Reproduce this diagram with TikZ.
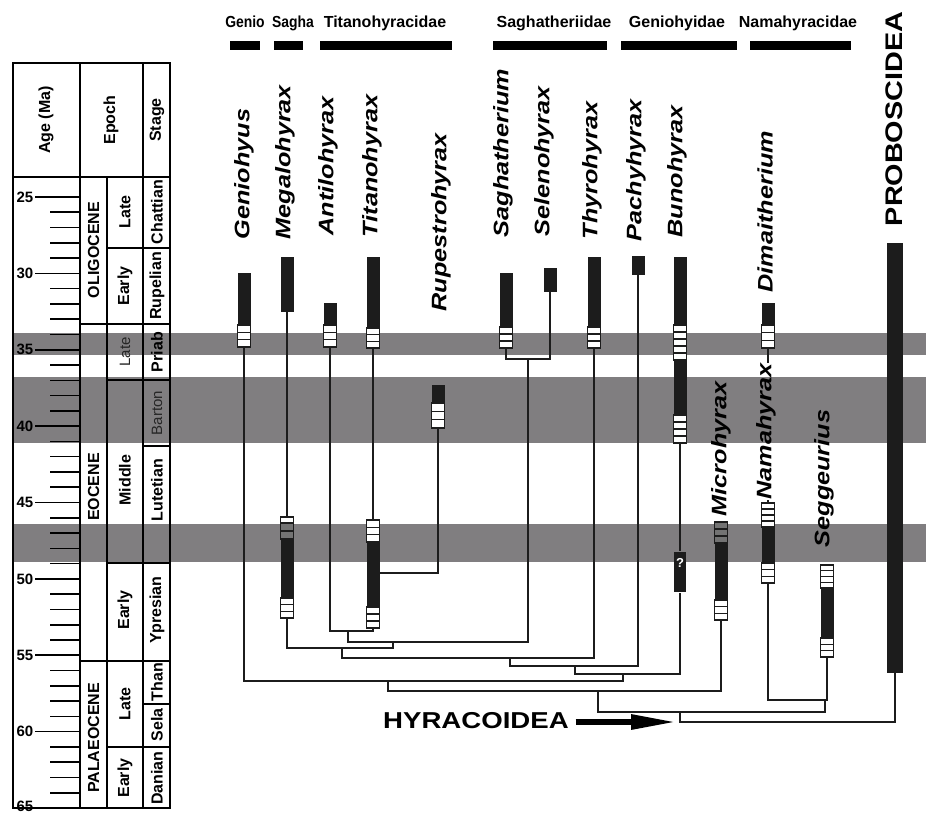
\documentclass[tikz,border=0pt]{standalone}
\usepackage{fontspec}
\setmainfont{Liberation Sans}
\usepackage{graphicx}
\usetikzlibrary{arrows.meta}

\definecolor{bandgray}{RGB}{128,126,128}
\definecolor{barblack}{RGB}{28,28,28}

\newcommand{\wtext}[1]{\scalebox{1.2}[1]{#1}}
% range bar: x, top, bottom
\newcommand{\rangebar}[3]{\fill[barblack] ({#1-6.5},#2) rectangle ({#1+6.5},#3);}
% cells in a bar: [style] x, top, bottom, number
\newcommand{\barcells}[5][cell]{%
  \pgfmathsetmacro{\cellh}{(#4-#3)/#5}
  \foreach \k in {1,...,#5}
    \draw[#1] ({#2-6.5},{#3+(\k-1)*\cellh}) rectangle ({#2+6.5},{#3+\k*\cellh});}

\begin{document}
\begin{tikzpicture}[x=1pt,y=-1pt,line width=1.6pt]
    \tikzstyle{band}=[fill=bandgray]
    \tikzstyle{cell}=[fill=white,draw=barblack,line width=1.1pt]
    \tikzstyle{graycell}=[fill=black!55,draw=barblack,line width=1.1pt]
    \tikzstyle{tabtext}=[rotate=90,inner sep=0pt,font=\fontsize{16}{16}\selectfont\bfseries]
    \tikzstyle{fainttext}=[tabtext,font=\fontsize{15}{15}\selectfont,text=black!85]
    \tikzstyle{agelabel}=[anchor=east,inner sep=0pt,font=\fontsize{15}{15}\selectfont\bfseries]
    \tikzstyle{family}=[anchor=base,inner sep=0pt,font=\fontsize{16}{16}\selectfont\bfseries]
    \tikzstyle{genus}=[rotate=90,anchor=west,inner sep=0pt,font=\fontsize{21}{21}\selectfont\bfseries\itshape]
    \tikzstyle{branch}=[draw=barblack,line width=1.6pt]

    \useasboundingbox (0,0) rectangle (926,814);
    \fill[white] (0,0) rectangle (926,814);

    % Draw the gray bands
    \foreach \ya/\yb in {333/355,377/443,524/562}
        \fill[band] (13,\ya) rectangle (926,\yb);

    % Draw the time scale
    \draw (13,63) rectangle (170,808);
    \draw (13,177) -- (170,177);
    \draw (80,63) -- (80,808);
    \draw (143,63) -- (143,808);
    \draw (107,177) -- (107,808);
    \foreach \y/\xa in {324/80,661/80,248/107,380/107,563/107,747/107,446/143,704/143}
        \draw (\xa,\y) -- (170,\y);
    \foreach \a in {25,...,65}{
        \pgfmathsetmacro{\xt}{mod(\a,5)==0 ? 35 : 50}
        \draw (\xt,{197+(\a-25)*15.275}) -- (80,{197+(\a-25)*15.275});
    }
    \foreach \a in {25,30,...,60}
        \node[agelabel] (age-\a) at (34,{197+(\a-25)*15.275}) {\a};
    \node[agelabel,anchor=north east] (age-65) at (34,800) {65};

    \node[tabtext] (hd-age) at (46,120) {Age (Ma)};
    \node[tabtext] (hd-epoch) at (111,120) {Epoch};
    \node[tabtext] (hd-stage) at (157,120) {Stage};
    \node[tabtext] (oligocene) at (93.5,250) {OLIGOCENE};
    \node[tabtext] (eocene) at (93.5,487) {EOCENE};
    \node[tabtext] (palaeocene) at (93.5,738) {PALAEOCENE};
    \node[tabtext] (olig-late) at (125,212) {Late};
    \node[tabtext] (olig-early) at (125,286) {Early};
    \node[fainttext] (eoc-late) at (125,352) {Late};
    \node[tabtext] (eoc-middle) at (125,480) {Middle};
    \node[tabtext] (eoc-early) at (125,610) {Early};
    \node[tabtext] (pal-late) at (125,704) {Late};
    \node[tabtext] (pal-early) at (125,778) {Early};
    \node[tabtext] (chattian) at (157,212) {Chattian};
    \node[tabtext] (rupelian) at (157,286) {Rupelian};
    \node[tabtext] (priab) at (157,352) {Priab};
    \node[fainttext] (barton) at (157,413) {Barton};
    \node[tabtext] (lutetian) at (157,490) {Lutetian};
    \node[tabtext] (ypresian) at (157,610) {Ypresian};
    \node[tabtext] (than) at (157,682) {Than};
    \node[tabtext] (sela) at (157,725) {Sela};
    \node[tabtext] (danian) at (157,778) {Danian};

    % Families
    \node[family] (genio-hd) at (245,27) {\scalebox{0.87}[1]{Genio}};
    \node[family] (sagha-hd) at (293,27) {\scalebox{0.87}[1]{Sagha}};
    \node[family] (titano-hd) at (385,27) {Titanohyracidae};
    \node[family] (saghath-hd) at (554,27) {Saghatheriidae};
    \node[family] (genioh-hd) at (677,27) {Geniohyidae};
    \node[family] (namah-hd) at (798,27) {Namahyracidae};
    \foreach \xa/\xb in {230/260,274/303,320/452,493/607,621/737,750/851}
        \fill (\xa,41) rectangle (\xb,50);

    % Ends of the lineages
    \coordinate (genio) at (244,347);
    \coordinate (megalo-up) at (287,312);
    \coordinate (megalo-lo) at (287,517);
    \coordinate (megalo) at (287,618);
    \coordinate (antilo) at (330,347);
    \coordinate (titano-up) at (373,348);
    \coordinate (titano-lo) at (373,520);
    \coordinate (titano) at (373,628);
    \coordinate (rupes) at (438,428);
    \coordinate (titrup) at (379.5,573);
    \coordinate (sagha) at (506,348);
    \coordinate (seleno) at (550,292);
    \coordinate (thyro) at (594,348);
    \coordinate (pachy) at (638,275);
    \coordinate (bunob) at (680,443);
    \coordinate (micro) at (721,620);
    \coordinate (dimai) at (768,348);
    \coordinate (namat) at (768,503);
    \coordinate (nama) at (768,583);
    \coordinate (segg) at (827,657);
    \coordinate (probo) at (895,673);

    % Nodes of the tree
    \coordinate (j1) at (348,631);
    \coordinate (j2) at (528,359);
    \coordinate (j3) at (393,642);
    \coordinate (j4) at (342,648);
    \coordinate (j5) at (510,658);
    \coordinate (j6) at (575,666);
    \coordinate (j7) at (623,674);
    \coordinate (j8) at (388,681);
    \coordinate (j9) at (598,691);
    \coordinate (j10) at (825,700);
    \coordinate (j11) at (680,712);
    \coordinate (hyra) at (680,722);

    \node[fill=barblack,text=white,minimum width=12pt,inner xsep=0pt,inner ysep=3pt,
          text height=12pt,text depth=22pt,font=\fontsize{13}{13}\selectfont\bfseries]
        (bunoq) at (680,572) {?};

    % Draw the tree
    \draw[branch] (megalo-up) -- (megalo-lo);
    \draw[branch] (titano-up) -- (titano-lo);
    \draw[branch] (rupes) |- (titrup);
    \draw[branch] (bunob) -- (bunoq.north);
    \draw[branch] (antilo) |- (j1) -| (titano);
    \draw[branch] (sagha) |- (j2) -| (seleno);
    \draw[branch] (j1) |- (j3) -| (j2);
    \draw[branch] (megalo) |- (j4) -| (j3);
    \draw[branch] (j4) |- (j5) -| (thyro);
    \draw[branch] (j5) |- (j6) -| (pachy);
    \draw[branch] (j6) |- (j7) -| (bunoq.south);
    \draw[branch] (genio) |- (j8) -| (j7);
    \draw[branch] (j8) |- (j9) -| (micro);
    \draw[branch] (nama) |- (j10) -| (segg);
    \draw[branch] (j9) |- (j11) -| (j10);
    \draw[branch] (j11) -- (hyra) -| (probo);

    % Draw the range bars
    \rangebar{244}{273}{347} \barcells{244}{325}{347}{3}
    \rangebar{287}{257}{312}
    \rangebar{287}{517}{618} \barcells{287}{517}{523}{1}
    \barcells[graycell]{287}{523}{539}{2} \barcells{287}{598}{618}{3}
    \rangebar{330}{303}{347} \barcells{330}{325}{347}{3}
    \rangebar{373}{257}{348} \barcells{373}{328}{348}{3}
    \rangebar{373}{520}{628} \barcells{373}{520}{542}{3} \barcells{373}{607}{628}{3}
    \rangebar{438}{385}{428} \barcells{438}{403}{428}{3}
    \rangebar{506}{273}{348} \barcells{506}{327}{348}{3}
    \rangebar{550}{268}{292}
    \rangebar{594}{257}{348} \barcells{594}{327}{348}{3}
    \rangebar{638}{256}{275}
    \rangebar{680}{257}{443} \barcells{680}{325}{360}{5} \barcells{680}{415}{443}{4}
    \rangebar{721}{522}{620} \barcells[graycell]{721}{522}{543}{3} \barcells{721}{600}{620}{3}
    \rangebar{768}{303}{348} \barcells{768}{325}{348}{3}
    \rangebar{768}{503}{583} \barcells{768}{503}{527}{4} \barcells{768}{563}{583}{3}
    \rangebar{827}{565}{657} \barcells{827}{565}{588}{4} \barcells{827}{638}{657}{3}
    \fill[barblack] (887,243) rectangle (903,673);

    % Genera
    \node[genus] (geniohyus) at (244,240) {\wtext{Geniohyus}};
    \node[genus] (megalohyrax) at (285,240) {\wtext{Megalohyrax}};
    \node[genus] (antilohyrax) at (328,236) {\wtext{Antilohyrax}};
    \node[genus] (titanohyrax) at (372,238) {\wtext{Titanohyrax}};
    \node[genus] (rupestrohyrax) at (441,312) {\wtext{Rupestrohyrax}};
    \node[genus] (saghatherium) at (503,238) {\wtext{Saghatherium}};
    \node[genus] (selenohyrax) at (544,237) {\wtext{Selenohyrax}};
    \node[genus] (thyrohyrax) at (592,240) {\wtext{Thyrohyrax}};
    \node[genus] (pachyhyrax) at (636,242) {\wtext{Pachyhyrax}};
    \node[genus] (bunohyrax) at (677,238) {\wtext{Bunohyrax}};
    \node[genus] (dimaitherium) at (765,293) {\wtext{Dimaitherium}};
    \node[genus] (microhyrax) at (721,517) {\wtext{Microhyrax}};
    \node[genus] (namahyrax) at (766,500) {\wtext{Namahyrax}};
    \node[genus] (seggeurius) at (824,548) {\wtext{Seggeurius}};
    \node[genus,font=\fontsize{24}{24}\selectfont\bfseries] (proboscidea) at (894,227) {\wtext{PROBOSCIDEA}};

    \draw[branch] (dimai) -- (dimai |- namahyrax.east);
    \draw[branch] (dimai |- namahyrax.west) -- (namat);

    % Hyracoidea
    \node[anchor=base,inner sep=6pt,font=\fontsize{23}{23}\selectfont\bfseries] (hylabel) at (476,728) {\wtext{HYRACOIDEA}};
    \draw[line width=6pt,shorten >=3pt,-{Triangle[length=46pt,width=14pt]}] (hylabel.east |- hyra) -- (hyra);
\end{tikzpicture}
\end{document}
